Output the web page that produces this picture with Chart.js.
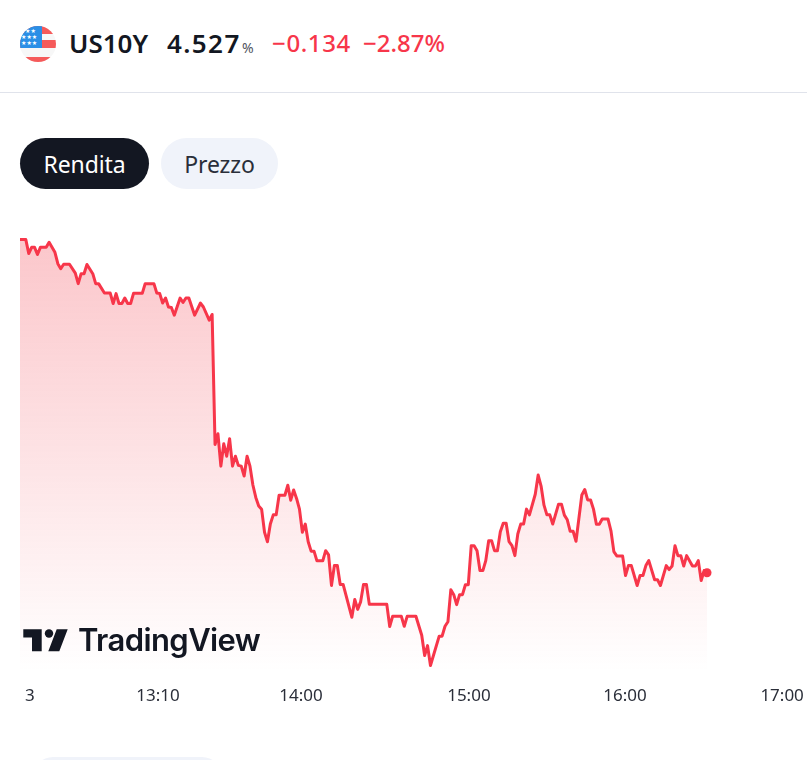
<!DOCTYPE html>
<html lang="it">
<head>
<meta charset="utf-8">
<title>US10Y</title>
<script src="https://cdn.jsdelivr.net/npm/chart.js@4"></script>
<style>
  html, body { margin: 0; padding: 0; background: #fff; }
  body { position: relative; width: 807px; height: 760px; overflow: hidden; font-family: "Noto Sans", sans-serif; color: #131722; }
  .abs { position: absolute; white-space: nowrap; line-height: 1; }
  #flag { position: absolute; left: 20px; top: 26px; }
  #rule { position: absolute; left: 0; top: 92px; width: 807px; height: 1px; background: #e0e3eb; }
  .pill { position: absolute; top: 138px; height: 51px; border-radius: 26px; text-align: center; font-size: 23px; line-height: 53px; letter-spacing: -0.1px; }
  #rendita { left: 20px; width: 129px; background: #131722; color: #fff; }
  #prezzo { left: 161px; width: 117px; background: #f0f3fa; color: #2a2e39; }
  #nextPill { position: absolute; left: 33px; top: 757px; width: 189px; height: 40px; border-radius: 20px; background: #f0f3fa; }
  #chartBox { position: absolute; left: 0; top: 220px; width: 807px; height: 500px; }
  #logo { position: absolute; left: 20px; top: 625px; }
  #logoText { left: 78px; top: 623px; font-family: Inter, sans-serif; font-weight: 600; font-size: 31px; line-height: 34px; letter-spacing: -0.6px; text-shadow: 0 0 3px #fff; }
</style>
</head>
<body>
<svg id="flag" width="36" height="36" viewBox="0 0 36 36">
  <defs><clipPath id="disc"><circle cx="18" cy="18" r="18"/></clipPath></defs>
  <g clip-path="url(#disc)">
    <rect width="36" height="36" fill="#f7f7f7"/>
    <rect width="36" height="8" fill="#f55a5a"/>
    <rect y="14" width="36" height="8" fill="#f55a5a"/>
    <rect y="31" width="36" height="5" fill="#f55a5a"/>
    <rect width="22" height="22" fill="#2b8fe6"/>
    <g fill="#fff" font-size="6" font-family="DejaVu Sans">
      <text x="5" y="7">★★</text>
      <text x="1" y="13">★★★</text>
      <text x="1" y="19">★★★</text>
    </g>
  </g>
</svg>
<span class="abs" style="left:69px;top:30px;font-size:26px;font-weight:600">US10Y</span>
<span class="abs" style="left:167px;top:30px;font-size:26px;font-weight:600;letter-spacing:1.4px">4.527</span>
<span class="abs" style="left:242px;top:41px;font-size:14px;color:#50535e">%</span>
<span class="abs" style="left:272px;top:31px;font-size:24px;font-weight:500;color:#f7364a;letter-spacing:.6px">−0.134</span>
<span class="abs" style="left:363px;top:31px;font-size:24px;font-weight:500;color:#f7364a;letter-spacing:0">−2.87%</span>
<div id="rule"></div>
<div class="pill" id="rendita">Rendita</div>
<div class="pill" id="prezzo">Prezzo</div>
<div id="chartBox"><canvas id="yieldChart" width="807" height="500"></canvas></div>
<svg id="logo" width="52" height="30" viewBox="0 0 52 30">
  <path d="M3.3 4.3H21.7V26.3H12V12.5H3.3Z M36.7 4.3H47.7L39.3 26.3H28.3Z" fill="#131722"/>
  <circle cx="29" cy="8.5" r="4.2" fill="#131722"/>
</svg>
<span class="abs" id="logoText">TradingView</span>
<div id="nextPill"></div>

<script>
"use strict";
// Bar number of each turning point on the intraday line
const bars = [
    0, 2, 3, 4, 5, 6, 7, 9, 10, 12, 13, 14, 15, 17, 19, 20, 21, 22, 23, 25,
    26, 27, 29, 31, 32, 33, 34, 35, 36, 37, 38, 39, 42, 43, 46, 47, 48, 49, 50, 51,
    52, 53, 55, 56, 57, 58, 60, 62, 63, 65, 66,
    67, 68, 69, 70, 71, 72, 73, 74, 75, 76, 77, 78, 79, 80, 81, 82, 83, 84, 85,
    86, 87, 88, 89, 91, 92, 93, 94, 95, 96, 97, 98, 99, 100, 101, 102, 104, 105, 106,
    107, 108, 109, 110, 111, 112, 114, 115, 116, 117, 118, 119, 120, 126, 127, 128,
    131, 132, 133, 136, 138, 139, 140, 141, 144, 145, 146, 147, 148, 149, 150, 151,
    152, 153, 154, 155, 156, 157, 158, 159, 160, 161, 162, 163, 164, 165, 166, 167,
    168, 169, 170, 171, 172, 173, 174, 175, 177, 178, 179, 180, 181, 182, 183, 185,
    186, 187, 188, 189, 190, 191, 193, 194, 195, 196, 197, 198, 199, 200, 202, 203,
    204, 205, 207, 208, 209, 210, 212, 213, 214, 215, 216, 218, 219, 220, 222, 223,
    224, 225, 226, 227, 228, 229, 231, 232, 233, 234, 235, 236,
];
// Yield in percent at those bars
const yields = [
    4.661, 4.661, 4.6554, 4.6579, 4.6579, 4.655, 4.6579, 4.6579, 4.6599, 4.6559,
    4.6513, 4.6493, 4.6511, 4.6511, 4.6475, 4.6433, 4.6473, 4.6473, 4.651, 4.6473,
    4.6433, 4.6433, 4.6395, 4.6395, 4.6353, 4.6393, 4.6353, 4.6353, 4.6375, 4.6353,
    4.6353, 4.6394, 4.6394, 4.6433, 4.6433, 4.6395, 4.6393, 4.6355, 4.6375, 4.6339,
    4.6337, 4.6306, 4.6375, 4.6357, 4.6375, 4.6375, 4.6306, 4.6355, 4.6339, 4.6286, 4.6309,
    4.5786, 4.5829, 4.5699, 4.5789, 4.5739, 4.5809, 4.5699, 4.5739, 4.5702, 4.5699,
    4.5659, 4.5739, 4.5699, 4.5623, 4.5573, 4.5539, 4.5526, 4.5433, 4.5395,
    4.5466, 4.5503, 4.5503, 4.5582, 4.5582, 4.5622, 4.5562, 4.5603, 4.5569, 4.5526,
    4.5433, 4.5466, 4.5395, 4.5357, 4.5357, 4.5318, 4.5318, 4.5359, 4.5342,
    4.5219, 4.5299, 4.5299, 4.5223, 4.5223, 4.5179, 4.5091, 4.5163, 4.5123, 4.5153,
    4.5223, 4.5223, 4.5143, 4.5143, 4.5054, 4.5095,
    4.5095, 4.5055, 4.5095, 4.5095, 4.5019, 4.4937, 4.4977, 4.4897, 4.5015, 4.5015,
    4.5055, 4.5073, 4.5202, 4.5182, 4.5142, 4.5182,
    4.5182, 4.5222, 4.5222, 4.5379, 4.5379, 4.5359, 4.5279, 4.5279, 4.5319, 4.5399,
    4.5399, 4.5359, 4.5359, 4.5435, 4.5469, 4.5469,
    4.5395, 4.5379, 4.5339, 4.5426, 4.5466, 4.5466, 4.5526, 4.5503, 4.5586, 4.5663,
    4.5619, 4.5542, 4.5503, 4.5503, 4.5466, 4.5546,
    4.5546, 4.5502, 4.5483, 4.5437, 4.5437, 4.5397, 4.5583, 4.5605, 4.5563, 4.5563,
    4.5526, 4.5465, 4.5465, 4.5486, 4.5486, 4.5439,
    4.5355, 4.5338, 4.5338, 4.5259, 4.5299, 4.5299, 4.5219, 4.5259, 4.5259, 4.5299,
    4.5319, 4.5242, 4.5242, 4.5219, 4.5299, 4.5283,
    4.5297, 4.5379, 4.5339, 4.5339, 4.5297, 4.5339, 4.5297, 4.5297, 4.5319, 4.5239, 4.5279, 4.527,
];
// The time axis counts bars, so labels sit on bar numbers and not on clock spacing
const tickBars = [3.4, 47.4, 96.5, 154.2, 207.8, 261.8];
const tickLabels = ["3", "13:10", "14:00", "15:00", "16:00", "17:00"];

const RED = "#f7364a";

const points = bars.map((b, i) => ({ x: b, y: yields[i] }));

function areaFill(ctx) {
    const area = ctx.chart.chartArea;
    if (!area) return "rgba(242, 54, 69, 0.28)";
    const g = ctx.chart.ctx.createLinearGradient(0, area.top + 19, 0, area.bottom);
    g.addColorStop(0, "rgba(242, 54, 69, 0.28)");
    g.addColorStop(1, "rgba(242, 54, 69, 0)");
    return g;
}

const config = {
    type: "line",
    data: {
        datasets: [
            {
                data: points,
                borderColor: RED,
                borderWidth: 3,
                borderJoinStyle: "round",
                backgroundColor: areaFill,
                fill: "start",
                tension: 0,
                clip: false,
                pointRadius: (ctx) => (ctx.dataIndex === points.length - 1 ? 4.5 : 0),
                pointBackgroundColor: RED,
                pointBorderWidth: 0,
            },
        ],
    },
    options: {
        responsive: false,
        animation: false,
        layout: { padding: { left: 20, right: 0, top: 0, bottom: 0 } },
        plugins: { legend: { display: false }, tooltip: { enabled: false } },
        scales: {
            x: {
                type: "linear",
                min: 0,
                max: 268.8,
                grid: { display: false, drawTicks: false },
                border: { display: false },
                afterBuildTicks: (scale) => {
                    scale.ticks = tickBars.map((v) => ({ value: v }));
                },
                afterFit: (scale) => {
                    scale.height = 48;
                    // labels near the edges must not squeeze the plot
                    scale.paddingLeft = 0;
                    scale.paddingRight = 0;
                },
                ticks: {
                    autoSkip: false,
                    maxRotation: 0,
                    padding: 14,
                    color: "#2a2e39",
                    font: { family: "'Noto Sans'", size: 17 },
                    callback: (value, index) => tickLabels[index],
                },
            },
            y: { display: false, min: 4.4871, max: 4.66708 },
        },
    },
};

const yieldChart = new Chart(document.getElementById("yieldChart"), config);
</script>
</body>
</html>
